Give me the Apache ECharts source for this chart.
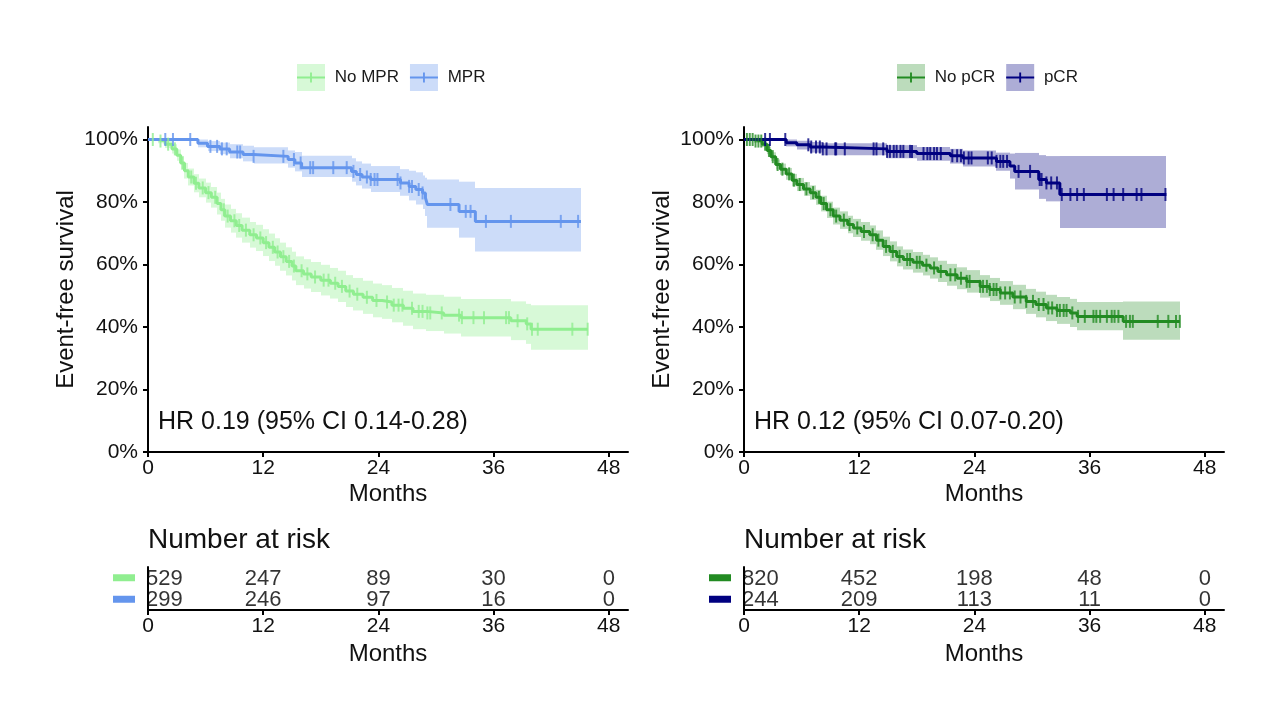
<!DOCTYPE html>
<html><head><meta charset="utf-8">
<script src="https://cdn.jsdelivr.net/npm/echarts@6/dist/echarts.min.js"></script>
<style>html,body{margin:0;padding:0;background:#fff}#c{width:1280px;height:720px}</style>
</head><body><div id="c"></div><script>
const FONT = 'Liberation Sans, Arial, Helvetica, sans-serif';
const xTicks = [0, 12, 24, 36, 48];
const yTicks = [0, 20, 40, 60, 80, 100];
const riskTimes = [0, 12, 24, 36, 48];

// ---- Left panel: No MPR ----
const noMprT  = [0,1.0,1.8,2.5,3.0,3.4,3.8,4.2,4.8,5.3,6.0,6.6,7.2,7.6,8.0,8.6,9.2,9.8,10.6,11.3,12.0,12.6,13.2,13.8,14.4,15.0,15.4,16.2,17.0,18.0,19.0,19.8,20.6,21.4,22.4,23.4,24.4,25.4,26.6,27.6,29.0,30.8,32.6,37.8,39.4,39.9];
const noMprS  = [100,99.5,98.5,97,95,92.5,90,88,86,84.5,83,81.5,79.5,77.5,75.5,74,72.5,71,69.5,68.5,67,65.5,64,62.5,61,59.5,58,57,56,55,54,53,51.5,50.5,49.5,48.5,48,47,46,45,44.5,43.8,43,42,41,39.3];
const noMprLo = [100,98.8,97.3,95.5,93.2,90.3,87.5,85.3,83.1,81.5,79.8,78.2,76,74,71.8,70.2,68.6,67,65.4,64.3,62.7,61.1,59.6,58,56.5,54.9,53.4,52.3,51.2,50.1,49.1,48,46.4,45.3,44.2,43.1,42.6,41.5,40.4,39.3,38.7,37.9,37,35.8,34.6,32.7];
const noMprHi = [100,100,99.7,98.5,96.8,94.7,92.5,90.7,88.9,87.5,86.2,84.8,83,81,79.2,77.8,76.4,75,73.6,72.7,71.3,69.9,68.4,67,65.5,64.1,62.6,61.7,60.8,59.9,58.9,58,56.6,55.7,54.8,53.9,53.4,52.5,51.6,50.7,50.3,49.7,49,48.2,47.4,47];
const noMprEnd = 45.8;
const noMprCens = [0.5,1.3,2.1,2.8,3.6,4.5,5.0,5.7,6.3,7.0,7.9,8.3,9.0,9.5,10.2,11.0,11.7,12.3,13.0,13.5,14.1,14.7,15.2,16.0,16.6,17.4,18.3,18.8,19.5,20.2,21.0,21.8,22.8,23.8,24.9,25.6,26.1,26.5,27.5,28.2,28.6,29.1,29.4,30.6,32.4,32.7,33.9,35.0,37.3,37.6,38.5,39.5,40.0,40.6,44.2,45.8];

// ---- Left panel: MPR ----
const mprT  = [0,5.2,6.2,7.5,8.5,9.9,11.0,14.6,15.3,16.0,21.2,21.7,22.3,23.2,26.3,27.2,27.9,28.6,28.9,29.1,32.4,34.1];
const mprS  = [100,98.8,97.8,97.0,96.0,95.2,94.6,93.6,92.5,91.0,89.8,88.8,88.0,87.2,86.1,85.0,84.0,82.9,81.3,79.2,77.0,73.8];
const mprLo = [100,97.5,96.3,95.3,94,93,92.3,91,89.8,88,86.5,85.3,84.3,83.2,82,80.5,79.2,77.8,75.5,71.8,68.6,64.2];
const mprHi = [100,100,99.5,99,98.5,98,97.5,96.5,96,94.8,94,93,92.3,91.5,90.5,90,89.5,88.5,87.8,87.2,86.5,84.5];
const mprEnd = 45.1;
const mprCens = [1.8,2.6,4.4,6.5,7.2,7.7,8.2,9.3,9.6,11.0,14.1,15.2,15.9,16.9,17.2,19.3,20.7,21.4,22.1,22.8,23.2,23.6,23.9,26.0,26.3,27.2,27.5,28.2,28.6,31.5,33.1,33.6,35.2,37.8,43.0,44.8];

// ---- Right panel: No pCR ----
const noPcrT  = [0,1.0,1.9,2.4,2.8,3.3,3.8,4.4,5.0,5.5,6.2,6.9,7.5,8.0,8.6,9.3,10.0,10.8,11.4,12.2,13.1,13.8,14.5,15.2,15.9,16.6,17.6,18.6,19.4,20.2,21.1,22.2,23.2,24.6,25.6,26.7,28.0,29.4,30.4,31.5,32.6,34.0,34.7,39.5];
const noPcrS  = [100,99.5,98.5,96.5,94.5,92,90.5,89,87,85.6,84.2,83,81.5,79.5,77.5,75.5,74.2,72.8,71.7,70.6,69.5,67.8,65.8,64.2,62.6,61.6,60.7,59.8,58.9,57.8,56.7,55.6,54.6,53,52,50.9,49.6,48.2,47.2,46.1,45.3,44.5,43.4,41.8];
const noPcrLo = [100,98.9,97.6,95.3,93.1,90.4,88.7,87.1,85,83.5,82,80.7,79.1,77,74.9,72.8,71.4,70,68.8,67.6,66.5,64.7,62.7,61,59.4,58.4,57.4,56.5,55.5,54.4,53.2,52.1,51,49.4,48.3,47.1,45.7,44.2,43.1,41.9,41,40,39,35.9];
const noPcrHi = [100,100,99.4,97.7,95.9,93.6,92.3,90.9,89,87.7,86.4,85.3,83.9,82,80.1,78.2,77,75.6,74.6,73.6,72.5,70.9,68.9,67.4,65.8,64.8,64,63.1,62.3,61.2,60.2,59.1,58.2,56.6,55.7,54.7,53.5,52.2,51.3,50.3,49.6,49,48,48.2];
const noPcrEnd = 45.4;
const noPcrCens = [0.3,0.6,0.9,1.2,1.5,1.8,2.2,2.6,3.0,3.5,4.0,4.7,5.2,5.8,6.5,7.2,7.8,8.3,9.0,9.6,10.4,11.0,11.8,12.5,13.4,14.0,14.8,15.5,16.2,17.0,17.3,18.0,18.3,19.0,19.8,20.5,21.5,22.0,22.6,23.2,23.5,24.6,24.9,25.3,25.6,26.0,26.3,26.7,27.2,27.7,28.2,28.8,29.4,30.1,30.7,31.2,31.7,32.1,32.6,32.9,33.3,33.6,34.2,34.8,35.5,36.4,36.7,37.1,37.8,38.3,38.6,39.0,39.8,40.2,40.5,43.1,44.2,45.0,45.4];

// ---- Right panel: pCR ----
const pcrT  = [0,4.4,5.5,6.9,8.2,14.9,18.0,21.5,22.8,26.3,27.7,28.2,30.7,31.5,32.9];
const pcrS  = [100,99.0,98.3,97.6,97.0,96.2,95.5,94.8,94.1,93.0,91.5,89.8,87.2,86.1,82.4];
const pcrLo = [100,97.8,96.8,95.8,95,94,93.2,92.3,91.4,90,87.5,84,81,80.2,71.7];
const pcrHi = [100,100,99.6,99.2,98.8,98.2,97.6,97,96.5,95.8,95.5,95.7,95,94.7,94.7];
const pcrEnd = 44.0;
const pcrCens = [2.2,2.7,4.3,6.7,7.0,7.5,7.9,8.2,8.6,9.5,9.6,10.5,13.5,13.8,14.5,14.9,15.2,15.6,15.9,16.3,16.6,17.3,17.5,18.7,19.1,19.4,19.8,20.1,20.5,21.7,22.2,22.6,22.9,23.4,23.7,25.4,25.8,26.3,26.7,27.0,27.4,28.6,29.8,30.8,31.0,31.5,32.0,32.6,33.1,34.0,34.7,35.4,37.8,38.5,39.5,40.9,41.4,43.9];

// ---- Number at risk ----
const riskNoMpr = [529, 247, 89, 30, 0];
const riskMpr   = [299, 246, 97, 16, 0];
const riskNoPcr = [820, 452, 198, 48, 0];
const riskPcr   = [244, 209, 113, 11, 0];

const hrLeft  = 'HR 0.19 (95% CI 0.14-0.28)';
const hrRight = 'HR 0.12 (95% CI 0.07-0.20)';

const C = {
  noMpr: '#90EE90', mpr: '#6495ED', noPcr: '#228B22', pcr: '#000080',
  noMprF: 'rgba(144,238,144,0.36)', mprF: 'rgba(100,149,237,0.33)',
  noPcrF: 'rgba(34,139,34,0.30)', pcrF: 'rgba(0,0,128,0.32)'
};

function bandRows(T, lo, hi, end) {
  return T.map((t, i) => [t, i + 1 < T.length ? T[i + 1] : end, lo[i], hi[i]]);
}
function stepRows(T, S, end) {
  const r = T.map((t, i) => [t, S[i]]);
  r.push([end, S[S.length - 1]]);
  return r;
}
function survAt(T, S, t) {
  let v = S[0];
  for (let i = 0; i < T.length; i++) if (T[i] <= t) v = S[i];
  return v;
}
function censRows(T, S, cens) { return cens.map(t => [t, survAt(T, S, t)]); }

function renderBand(params, api) {
  const a = api.coord([api.value(0), api.value(3)]);
  const b = api.coord([api.value(1), api.value(2)]);
  const x1 = Math.round(a[0]), x2 = Math.round(b[0]);
  return { type: 'rect', shape: { x: x1, y: a[1], width: x2 - x1, height: b[1] - a[1] },
           style: { fill: api.visual('color') } };
}

function bandSeries(name, T, lo, hi, end, fill, gi) {
  return { type: 'custom', name, xAxisIndex: gi, yAxisIndex: gi, renderItem: renderBand,
           itemStyle: { color: fill }, encode: { x: [0, 1], y: [2, 3] },
           data: bandRows(T, lo, hi, end), silent: true, z: 1 };
}
function lineSeries(name, T, S, end, color, gi) {
  return { type: 'line', name, xAxisIndex: gi, yAxisIndex: gi, step: 'end', showSymbol: false,
           symbol: 'none', lineStyle: { color, width: 3 }, itemStyle: { color },
           data: stepRows(T, S, end), silent: true, z: 3 };
}
function censSeries(name, T, S, cens, color, gi) {
  return { type: 'scatter', name, xAxisIndex: gi, yAxisIndex: gi, symbol: 'rect', symbolSize: [2, 13],
           itemStyle: { color }, data: censRows(T, S, cens), silent: true, z: 4 };
}
function riskSeries(name, counts, rowIdx, gi) {
  return { type: 'scatter', name, xAxisIndex: gi, yAxisIndex: gi, symbolSize: 1,
           itemStyle: { color: 'rgba(0,0,0,0)' },
           label: { show: true, position: 'inside', color: '#000', fontSize: 22, fontFamily: FONT,
                    formatter: p => String(p.value[2]) },
           data: riskTimes.map((t, i) => {
             const d = { value: [t, rowIdx, counts[i]] };
             if (i === 0) d.label = { align: 'left', offset: [-2, 1] };
             else d.label = { offset: [0, 1] };
             return d;
           }), silent: true, z: 5 };
}

const crossIcon = 'path://M0,4H30V6H0Z M14,0H16V10H14Z';

function xAxisCfg(gi, gap) {
  return { type: 'value', gridIndex: gi, min: 0, max: 50,
    axisLine: { show: true, onZero: false, lineStyle: { color: '#000', width: 2 } },
    axisTick: { show: true, length: 5, customValues: xTicks, lineStyle: { color: '#000', width: 2 } },
    axisLabel: { customValues: xTicks, color: '#111', fontSize: 21, margin: 6, fontFamily: FONT },
    splitLine: { show: false },
    name: 'Months', nameLocation: 'middle', nameGap: gap,
    nameTextStyle: { color: '#111', fontSize: 24, fontFamily: FONT } };
}
function yAxisMain(gi) {
  return { type: 'value', gridIndex: gi, min: 0, max: 104,
    axisLine: { show: true, onZero: false, lineStyle: { color: '#000', width: 2 } },
    axisTick: { show: true, length: 5, customValues: yTicks, lineStyle: { color: '#000', width: 2 } },
    axisLabel: { customValues: yTicks, formatter: v => v + '%', color: '#111', fontSize: 21, margin: 10, fontFamily: FONT },
    splitLine: { show: false },
    name: 'Event-free survival', nameLocation: 'middle', nameGap: 70, nameRotate: 90,
    nameTextStyle: { color: '#111', fontSize: 24, fontFamily: FONT } };
}
function yAxisRisk(gi, names, colors) {
  return { type: 'category', gridIndex: gi, data: names, inverse: true,
    axisLine: { show: true, lineStyle: { color: '#000', width: 2 } },
    axisTick: { show: false },
    axisLabel: { margin: 13, formatter: v => (v === names[0] ? '{a| }' : '{b| }'),
      rich: { a: { width: 22, height: 7, backgroundColor: colors[0] },
              b: { width: 22, height: 7, backgroundColor: colors[1] } } },
    splitLine: { show: false } };
}
function legendPair(left, n1, n2, f1, f2, c1, c2) {
  const ts = { fontSize: 17, fontFamily: FONT, color: '#1a1a1a' };
  const common = { left, orient: 'horizontal', itemWidth: 28, itemGap: 11,
                   padding: 0, selectedMode: false, symbolKeepAspect: false };
  return [
    Object.assign({}, common, { top: 64, itemHeight: 27, textStyle: ts, formatter: n => ' ' + n,
      data: [{ name: n1, icon: 'rect', itemStyle: { color: f1, borderWidth: 0 } },
             { name: n2, icon: 'rect', itemStyle: { color: f2, borderWidth: 0 } }] }),
    Object.assign({}, common, { top: 69, itemHeight: 10, z: 5,
      textStyle: Object.assign({}, ts, { color: 'rgba(0,0,0,0)' }),
      formatter: n => ' ' + n.split('|')[0],
      data: [{ name: n1 + '|l', icon: crossIcon, itemStyle: { color: c1, borderWidth: 0 } },
             { name: n2 + '|l', icon: crossIcon, itemStyle: { color: c2, borderWidth: 0 } }] })
  ];
}
function txt(text, left, top, size) {
  return { text, left, top, padding: 0,
           textStyle: { color: '#111', fontSize: size, fontWeight: 'normal', fontFamily: FONT } };
}

const option = {
  backgroundColor: '#fff',
  animation: false,
  textStyle: { fontFamily: FONT },
  title: [
    txt(hrLeft, 158, 410, 25), txt(hrRight, 754, 410, 25),
    txt('Number at risk', 148, 526, 28), txt('Number at risk', 744, 526, 28)
  ],
  legend: [].concat(
    legendPair(297, 'No MPR', 'MPR', C.noMprF, C.mprF, C.noMpr, C.mpr),
    legendPair(897, 'No pCR', 'pCR', C.noPcrF, C.pcrF, C.noPcr, C.pcr)
  ),
  grid: [
    { left: 148, top: 127, width: 480, height: 325 },
    { left: 744, top: 127, width: 480, height: 325 },
    { left: 148, top: 567, width: 480, height: 43 },
    { left: 744, top: 567, width: 480, height: 43 }
  ],
  xAxis: [xAxisCfg(0, 30), xAxisCfg(1, 30), xAxisCfg(2, 32), xAxisCfg(3, 32)],
  yAxis: [yAxisMain(0), yAxisMain(1),
          yAxisRisk(2, ['No MPR', 'MPR'], [C.noMpr, C.mpr]),
          yAxisRisk(3, ['No pCR', 'pCR'], [C.noPcr, C.pcr])],
  series: [
    bandSeries('No MPR', noMprT, noMprLo, noMprHi, noMprEnd, C.noMprF, 0),
    bandSeries('MPR', mprT, mprLo, mprHi, mprEnd, C.mprF, 0),
    lineSeries('No MPR|l', noMprT, noMprS, noMprEnd, C.noMpr, 0),
    lineSeries('MPR|l', mprT, mprS, mprEnd, C.mpr, 0),
    censSeries('cNoMpr', noMprT, noMprS, noMprCens, C.noMpr, 0),
    censSeries('cMpr', mprT, mprS, mprCens, C.mpr, 0),

    bandSeries('No pCR', noPcrT, noPcrLo, noPcrHi, noPcrEnd, C.noPcrF, 1),
    bandSeries('pCR', pcrT, pcrLo, pcrHi, pcrEnd, C.pcrF, 1),
    lineSeries('No pCR|l', noPcrT, noPcrS, noPcrEnd, C.noPcr, 1),
    lineSeries('pCR|l', pcrT, pcrS, pcrEnd, C.pcr, 1),
    censSeries('cNoPcr', noPcrT, noPcrS, noPcrCens, C.noPcr, 1),
    censSeries('cPcr', pcrT, pcrS, pcrCens, C.pcr, 1),

    riskSeries('rNoMpr', riskNoMpr, 0, 2),
    riskSeries('rMpr', riskMpr, 1, 2),
    riskSeries('rNoPcr', riskNoPcr, 0, 3),
    riskSeries('rPcr', riskPcr, 1, 3)
  ]
};
const chart = echarts.init(document.getElementById('c'), null, { renderer: 'canvas' });
chart.setOption(option);
</script></body></html>
